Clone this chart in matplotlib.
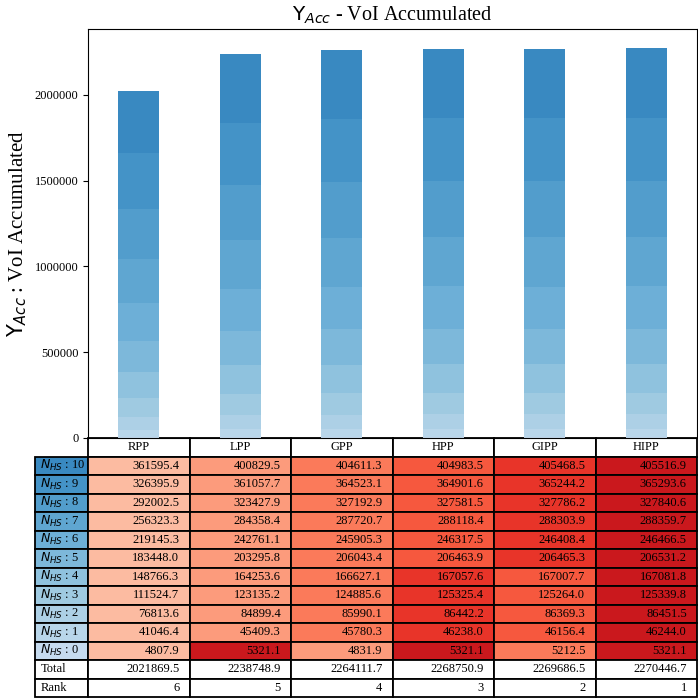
import numpy as np
import pandas as pd
import matplotlib
matplotlib.use("Agg")
import matplotlib.pyplot as plt

plt.rcParams['font.family'] = ['Liberation Serif', 'DejaVu Sans']

methods = ["RPP", "LPP", "GPP", "HPP", "GIPP", "HIPP"]
levels = [10, 9, 8, 7, 6, 5, 4, 3, 2, 1, 0]

# VoI accumulated per N_HS level (top row = N_HS 10)
n10 = [361595.4, 400829.5, 404611.3, 404983.5, 405468.5, 405516.9]
n9 = [326395.9, 361057.7, 364523.1, 364901.6, 365244.2, 365293.6]
n8 = [292002.5, 323427.9, 327192.9, 327581.5, 327786.2, 327840.6]
n7 = [256323.3, 284358.4, 287720.7, 288118.4, 288303.9, 288359.7]
n6 = [219145.3, 242761.1, 245905.3, 246317.5, 246408.4, 246466.5]
n5 = [183448.0, 203295.8, 206043.4, 206463.9, 206465.3, 206531.2]
n4 = [148766.3, 164253.6, 166627.1, 167057.6, 167007.7, 167081.8]
n3 = [111524.7, 123135.2, 124885.6, 125325.4, 125264.0, 125339.8]
n2 = [76813.6, 84899.4, 85990.1, 86442.2, 86369.3, 86451.5]
n1 = [41046.4, 45409.3, 45780.3, 46238.0, 46156.4, 46244.0]
n0 = [4807.9, 5321.1, 4831.9, 5321.1, 5212.5, 5321.1]
totals = ["2021869.5", "2238748.9", "2264111.7", "2268750.9", "2269686.5", "2270446.7"]
ranks = ["6", "5", "4", "3", "2", "1"]

data = np.array([n10, n9, n8, n7, n6, n5, n4, n3, n2, n1, n0])
n_rows = len(levels)

fig = plt.figure(figsize=(6.98, 7.0), dpi=100)
ax = fig.add_axes([88 / 698, 262 / 700, 609 / 698, 409 / 700])

blues = plt.cm.Blues(np.linspace(0.25, 0.66, n_rows))[::-1]  # row 0 (N=10) darkest
reds = plt.cm.Reds(np.linspace(0.25, 0.75, len(methods)))

index = np.arange(len(methods)) + 0.5
bottom = np.zeros(len(methods))
# stack from N_HS 0 upwards
for r in range(n_rows - 1, -1, -1):
    ax.bar(index, data[r], 0.4, bottom=bottom, color=blues[r])
    bottom += data[r]

ax.set_xlim(0, len(methods))
ax.set_xticks([])
ax.ticklabel_format(style='plain', axis='y', useOffset=False)
ax.tick_params(axis='y', labelsize=9)
ax.set_ylabel(r"$\mathrm{Y}_{Acc}$ : VoI Accumulated", fontsize=15)
ax.set_title(r"$\mathrm{Y}_{Acc}$ - VoI Accumulated", fontsize=14.5)

# cell colours by rank inside each row
cell_text = []
cell_colours = []
for r in range(n_rows):
    rk = pd.Series(data[r]).rank(method='max').astype(int).values
    cell_colours.append([reds[k - 1] for k in rk])
    cell_text.append(["%.1f" % v for v in data[r]])
cell_text.append(totals)
cell_colours.append(["white"] * len(methods))
cell_text.append(ranks)
cell_colours.append(["white"] * len(methods))

row_labels = [r"$N_{HS}$ : %d" % n for n in levels] + ["Total", "Rank"]
row_colours = list(blues) + ["white", "white"]

lab_w = 53 / 609
tab_h = 259 / 409
table = ax.table(cellText=cell_text, cellColours=cell_colours,
                 rowLabels=row_labels, rowColours=row_colours,
                 colLabels=methods, colWidths=[1 / 6] * 6,
                 cellLoc='right', rowLoc='left', colLoc='center',
                 bbox=[0, -tab_h, 1, tab_h])
table._autoColumns = []
for (r, c), cell in table.get_celld().items():
    cell.set_linewidth(1.3)
    if c == -1:
        cell.set_width(lab_w)
table.auto_set_font_size(False)
table.set_fontsize(9)

fig.savefig("out.png", dpi=100)
